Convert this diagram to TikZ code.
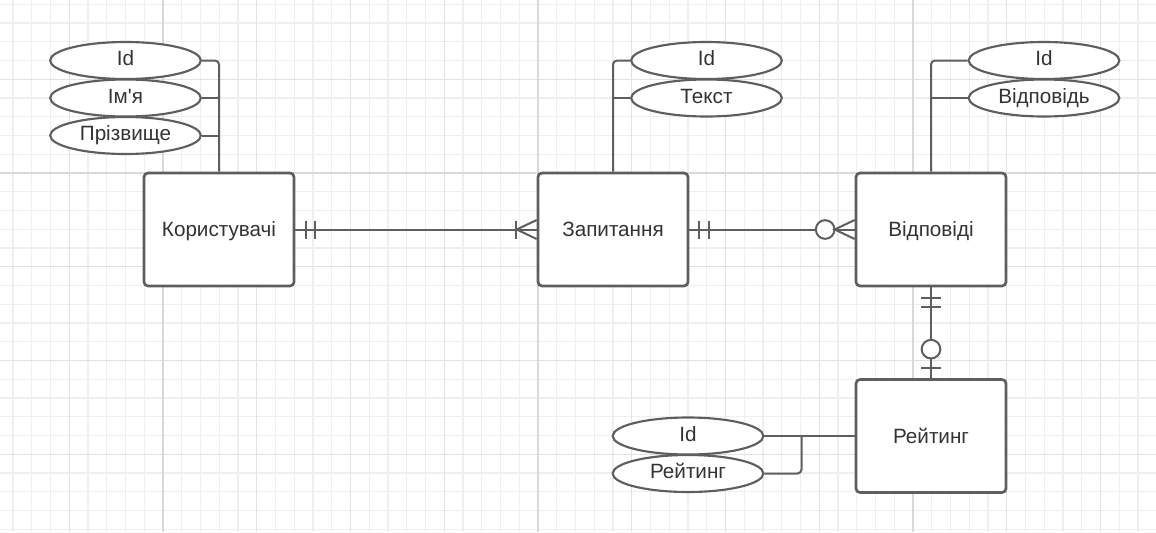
\documentclass[tikz,border=0pt]{standalone}
\usepackage{fontspec}
\setmainfont{Liberation Sans}[Ligatures=TeXOff]
\usetikzlibrary{shapes.geometric}
\definecolor{erline}{HTML}{5E5E5E}
\definecolor{ertext}{HTML}{333333}
\definecolor{gridminor}{HTML}{EFEFEF}
\definecolor{gridmid}{HTML}{E2E2E2}
\definecolor{gridmajor}{HTML}{D9D9D9}
\begin{document}
\begin{tikzpicture}[x=0.75pt, y=-0.75pt,
  entity/.style={draw=erline, line width=2pt, rounded corners=3pt, fill=white,
    minimum width=112.5pt, minimum height=84.75pt, text=ertext,
    text height=11.25pt, text depth=0.5pt,
    font=\fontsize{15.5}{18}\selectfont},
  attr/.style={draw=erline, ellipse, line width=1.6pt, fill=white, inner sep=0pt,
    minimum width=113pt, minimum height=27.75pt, text=ertext,
    text height=11.25pt, text depth=3.75pt,
    font=\fontsize{15.5}{18}\selectfont},
  link/.style={draw=erline, line width=1.5pt}]
\useasboundingbox (0,0) rectangle (1156,532);
% grid
\fill[white] (0,0) rectangle (1156,532);
\foreach \i in {0,...,60} \draw[gridminor, line width=0.8pt] (13+18.75*\i,0) -- (13+18.75*\i,532);
\foreach \i in {0,...,28} \draw[gridminor, line width=0.8pt] (0,4.25+18.75*\i) -- (1156,4.25+18.75*\i);
\foreach \i in {1,...,12} \draw[gridmid, line width=0.9pt] (-24.5+93.75*\i,0) -- (-24.5+93.75*\i,532);
\foreach \i in {0,...,4} \draw[gridmid, line width=0.9pt] (0,79.25+93.75*\i) -- (1156,79.25+93.75*\i);
\foreach \x in {163,538,913} \draw[gridmajor, line width=1.2pt] (\x,0) -- (\x,532);
\draw[gridmajor, line width=1.2pt] (0,173) -- (1156,173);
% entities
\node[entity] (usr) at (219,229.5) {Користувачі};
\node[entity] (qst) at (613,229.5) {Запитання};
\node[entity] (ans) at (931,229.5) {Відповіді};
\node[entity] (rtg) at (931,436) {Рейтинг};
% attributes
\node[attr] (usrId) at (125.5,60.5) {Id};
\node[attr] (usrName) at (125.5,98) {Ім'я};
\node[attr] (usrSurname) at (125.5,135.5) {Прізвище};
\node[attr] (qstId) at (706.5,60.5) {Id};
\node[attr] (qstText) at (706.5,98) {Текст};
\node[attr] (ansId) at (1044,60.5) {Id};
\node[attr] (ansText) at (1044,98) {Відповідь};
\node[attr] (rtgId) at (688,436) {Id};
\node[attr] (rtgVal) at (688,473.5) {Рейтинг};
\coordinate (rtgJoin) at (801.5,436);
\draw[link, rounded corners=3pt] (usrId.east) -| (usr.north);
\draw[link] (usrName.east) -- (usrName.east -| usr.north);
\draw[link] (usrSurname.east) -- (usrSurname.east -| usr.north);
\draw[link, rounded corners=3pt] (qstId.west) -| (qst.north);
\draw[link] (qstText.west) -- (qstText.west -| qst.north);
\draw[link, rounded corners=3pt] (ansId.west) -| (ans.north);
\draw[link] (ansText.west) -- (ansText.west -| ans.north);
\draw[link] (rtgId.east) -- (rtg.west);
\draw[link, rounded corners=3pt] (rtgVal.east) -| (rtgJoin);
% relationships
\draw[link] (usr.east) -- (qst.west);
\draw[link] (usr.east) ++(11,-9) -- ++(0,18);
\draw[link] (usr.east) ++(20,-9) -- ++(0,18);
\draw[link] (qst.west) ++(-21,-9) -- ++(0,18);
\draw[link] (qst.west) ++(0,-9.5) -- ++(-20,9.5) -- ++(20,9.5);
\draw[link] (qst.east) -- (ans.west);
\draw[link] (qst.east) ++(10,-9) -- ++(0,18);
\draw[link] (qst.east) ++(20,-9) -- ++(0,18);
\draw[link, fill=white] (ans.west) ++(-29.5,0) circle[radius=7pt];
\draw[link] (ans.west) ++(0,-9.5) -- ++(-20,9.5) -- ++(20,9.5);
\draw[link] (ans.south) -- (rtg.north);
\draw[link] (ans.south) ++(-10,10.5) -- ++(20,0);
\draw[link] (ans.south) ++(-10,20) -- ++(20,0);
\draw[link, fill=white] (rtg.north) ++(0,-29) circle[radius=7pt];
\draw[link] (rtg.north) ++(-10,-10) -- ++(20,0);
\end{tikzpicture}
\end{document}
